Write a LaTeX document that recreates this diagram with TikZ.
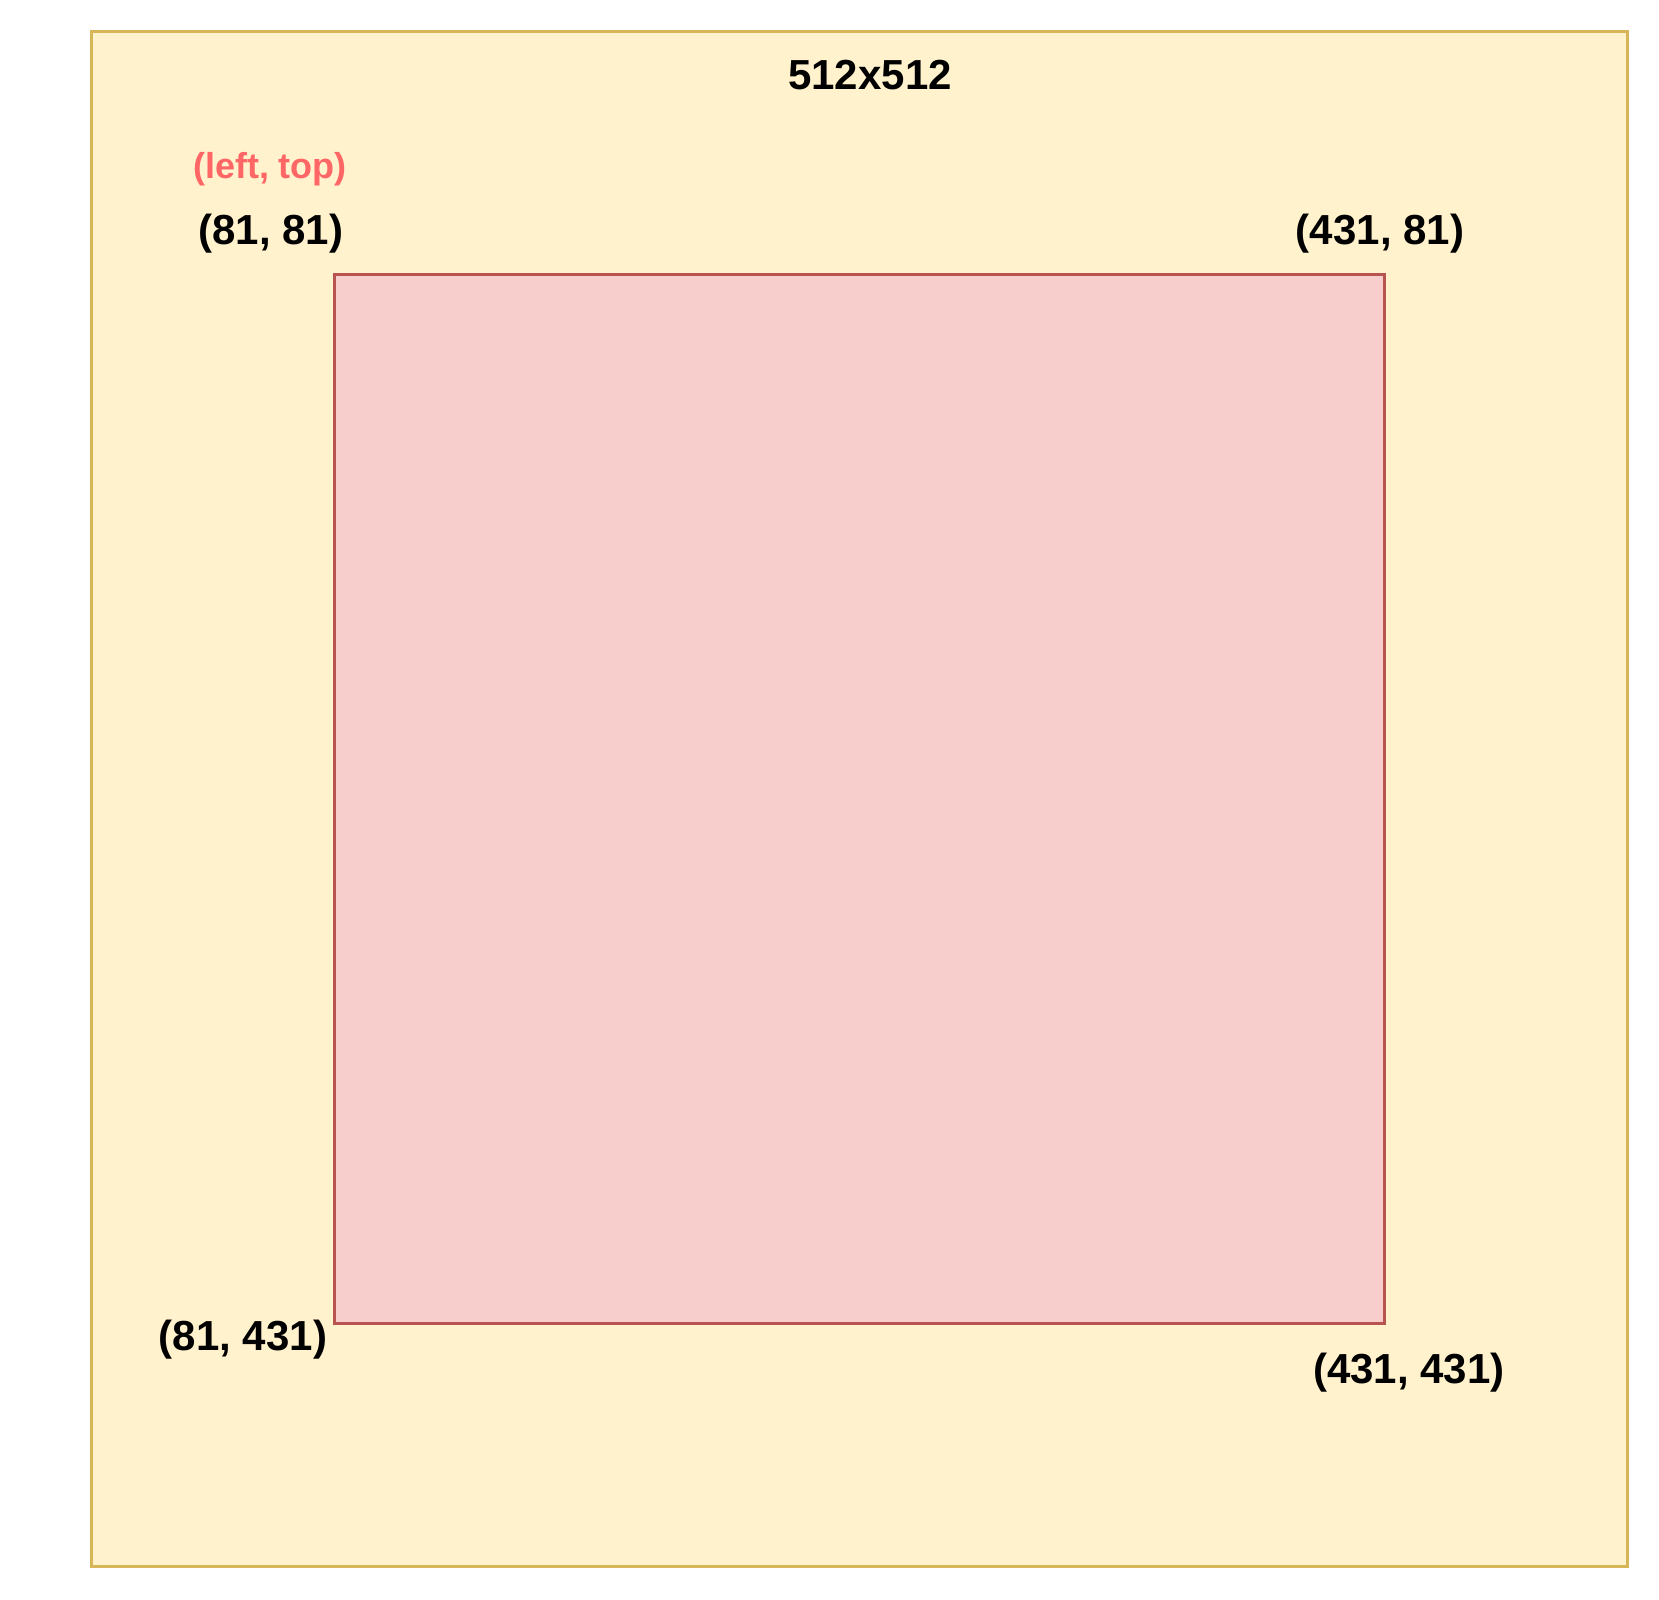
\documentclass[tikz,border=0pt]{standalone}
\usepackage{fontspec}
\setmainfont{Liberation Sans}
\definecolor{outerfill}{HTML}{FFF2CC}
\definecolor{outerdraw}{HTML}{D6B656}
\definecolor{innerfill}{HTML}{F8CECC}
\definecolor{innerdraw}{HTML}{B85450}
\definecolor{redlabel}{HTML}{FF6666}
\begin{document}
\begin{tikzpicture}[x=1pt,y=-1pt,
  canvasbox/.style={draw=outerdraw,fill=outerfill,line width=3pt,inner sep=0pt,minimum width=1536pt,minimum height=1535pt},
  cropbox/.style={draw=innerdraw,fill=innerfill,line width=3pt,inner sep=0pt,minimum width=1050pt,minimum height=1049.5pt},
  lbl/.style={font=\bfseries\fontsize{42}{50}\selectfont,inner sep=0pt,anchor=base},
  redlbl/.style={font=\bfseries\fontsize{36}{43}\selectfont,text=redlabel,inner sep=0pt,anchor=base}
]
\useasboundingbox (0,0) rectangle (1659,1599);
\node[canvasbox] (canvas) at (859.5,799) {};
\node[cropbox] (crop) at (859,798.75) {};
\node[lbl] (size) at (870,89) {512x512};
\node[redlbl] (lefttop) at (270,178) {(left, top)};
\node[lbl] (tl) at (271,244) {(81, 81)};
\node[lbl] (tr) at (1380,244) {(431, 81)};
\node[lbl] (bl) at (243,1350) {(81, 431)};
\node[lbl] (br) at (1409,1383) {(431, 431)};
\end{tikzpicture}
\end{document}
